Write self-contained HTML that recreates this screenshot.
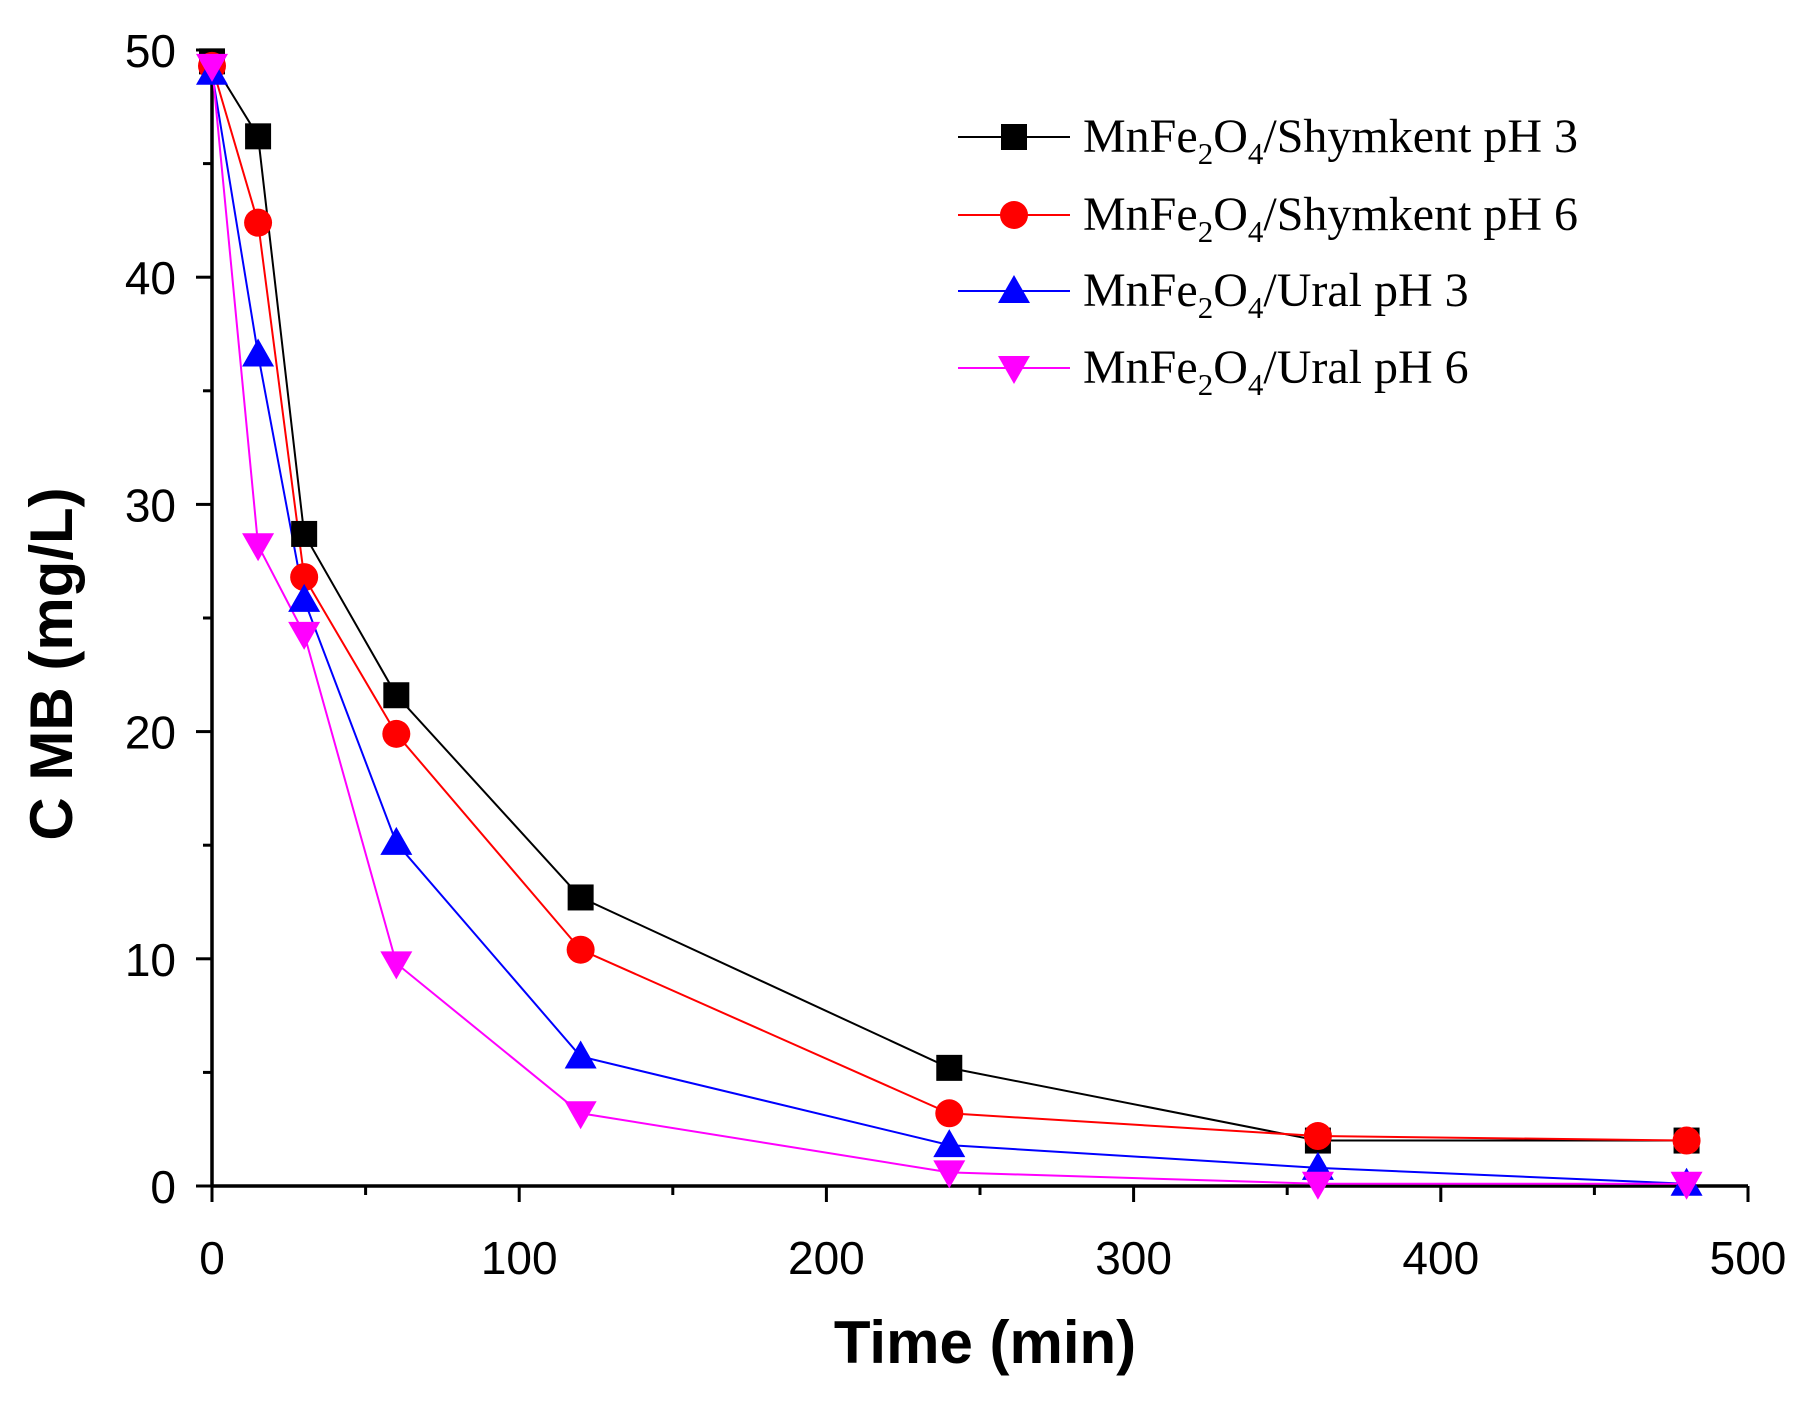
<!DOCTYPE html>
<html><head><meta charset="utf-8"><style>
body{margin:0;background:#fff;}
svg{display:block;font-family:"Liberation Sans",Arial,sans-serif;}
</style></head><body>
<svg id="s" width="1819" height="1405" viewBox="0 0 1819 1405" xmlns="http://www.w3.org/2000/svg"></svg>
<script>
const s=document.getElementById('s');
const X0=212,XS=3.072,Y0=1186,YS=22.72;
const fx=v=>X0+v*XS, fy=v=>Y0-v*YS;
let h='';
h+=`<line x1="${X0}" y1="${fy(50)}" x2="${X0}" y2="${Y0}" stroke="#000" stroke-width="3.5"/>`;
h+=`<line x1="${X0}" y1="${Y0}" x2="${fx(500)}" y2="${Y0}" stroke="#000" stroke-width="3.5"/>`;
for(let v=0;v<=50;v+=5){const y=fy(v),L=v%10==0?16:9;h+=`<line x1="${X0-L}" y1="${y}" x2="${X0}" y2="${y}" stroke="#000" stroke-width="3"/>`;
 if(v%10==0)h+=`<text x="${X0-36}" y="${y+17}" font-size="46" text-anchor="end">${v}</text>`;}
for(let v=0;v<=500;v+=50){const x=fx(v),L=v%100==0?16:9;h+=`<line x1="${x}" y1="${Y0}" x2="${x}" y2="${Y0+L}" stroke="#000" stroke-width="3"/>`;
 if(v%100==0)h+=`<text x="${x}" y="${Y0+88}" font-size="46" text-anchor="middle">${v}</text>`;}
h+=`<text x="985" y="1363" font-size="60" font-weight="bold" text-anchor="middle">Time (min)</text>`;
h+=`<text transform="translate(72,664) rotate(-90)" font-size="60" font-weight="bold" text-anchor="middle">C MB (mg/L)</text>`;
const t=[0,15,30,60,120,240,360,480];
const S=[
 ['#000','sq',[49.5,46.2,28.7,21.6,12.7,5.2,2.0,2.0],'Shymkent pH 3'],
 ['#f00','ci',[49.3,42.4,26.8,19.9,10.4,3.2,2.2,2.0],'Shymkent pH 6'],
 ['#00f','up',[49.0,36.6,25.8,15.1,5.7,1.8,0.8,0.1],'Ural pH 3'],
 ['#f0f','dn',[49.3,28.2,24.3,9.8,3.2,0.6,0.1,0.1],'Ural pH 6']];
function mk(c,m,x,y){
 if(m=='sq')return `<rect x="${x-13}" y="${y-13}" width="26" height="26" fill="${c}"/>`;
 if(m=='ci')return `<circle cx="${x}" cy="${y}" r="14" fill="${c}"/>`;
 if(m=='up')return `<polygon points="${x},${y-16} ${x-16},${y+12} ${x+16},${y+12}" fill="${c}"/>`;
 return `<polygon points="${x-16},${y-12} ${x+16},${y-12} ${x},${y+16}" fill="${c}"/>`;}
S.forEach(([c,m,d])=>{h+=`<polyline fill="none" stroke="${c}" stroke-width="2" points="${t.map((v,i)=>fx(v)+','+fy(d[i])).join(' ')}"/>`;});
S.forEach(([c,m,d])=>{t.forEach((v,i)=>h+=mk(c,m,fx(v),fy(d[i])));});
const ly=[137,215,291,368];
S.forEach(([c,m,d,l],i)=>{const y=ly[i];
 h+=`<line x1="958" y1="${y}" x2="1070" y2="${y}" stroke="${c}" stroke-width="2"/>`+mk(c,m,1014,y);
 h+=`<text x="1083" y="${y+15}" font-size="48" font-family="Liberation Serif,serif">MnFe<tspan font-size="31" dy="12">2</tspan><tspan dy="-12">O</tspan><tspan font-size="31" dy="12">4</tspan><tspan dy="-12">/${l}</tspan></text>`;});
s.innerHTML=h;
</script>
</body></html>
